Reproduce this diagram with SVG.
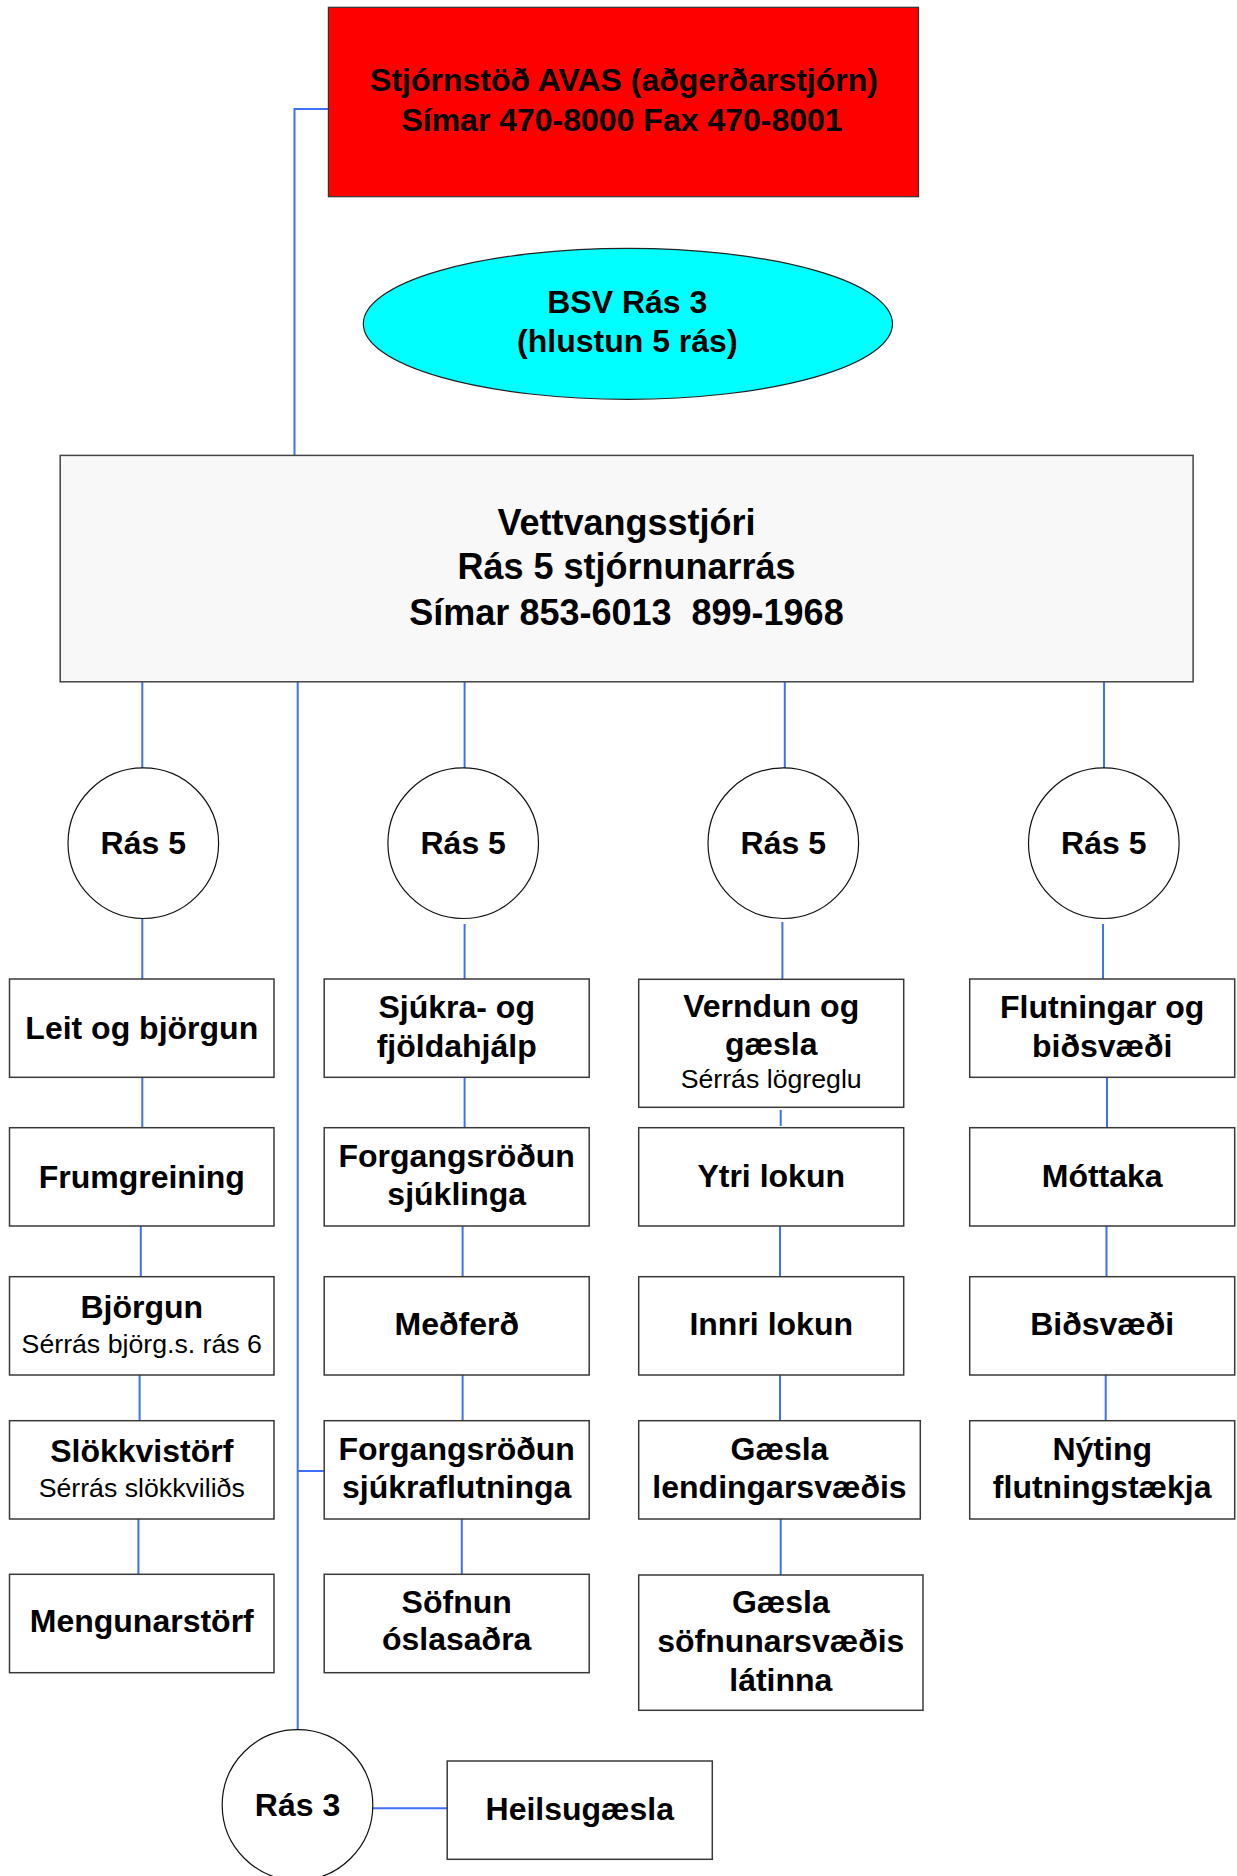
<svg xmlns="http://www.w3.org/2000/svg" width="1237" height="1876" viewBox="0 0 1237 1876">
<style>
.bx{fill:#fff;stroke:#3a3a3a;stroke-width:1.5}
.ci{fill:#fff;stroke:#111;stroke-width:1.2}
.ln{fill:none;stroke:#3f6fff;stroke-width:2}
.b{font-family:"Liberation Sans",Arial,sans-serif;font-weight:bold;font-size:32px;fill:#000;text-anchor:middle}
.r{font-family:"Liberation Sans",Arial,sans-serif;font-size:26.7px;fill:#000;text-anchor:middle}
.big{font-size:36px}
</style>
<rect width="1237" height="1876" fill="#fff"/>
<g id="connectors">
<path class="ln" d="M328.4,109 H294.5 V455.4"/>
<path class="ln" d="M142.3,681.8 V768 M464.6,681.8 V768 M784.8,681.8 V768 M1104,681.8 V768"/>
<path class="ln" d="M142.3,918.6 V979 M464.6,924 V984.6 M782.4,922 V981 M1103,924 V984"/>
<path class="ln" d="M142.3,1077 V1128 M140.8,1226 V1277 M139.6,1375 V1421 M138.4,1519 V1574"/>
<path class="ln" d="M464.6,1077 V1130 M462.6,1226 V1278 M462.6,1375 V1422 M461.8,1519 V1574"/>
<path class="ln" d="M780.7,1110 V1126 M780,1226 V1279 M780,1375 V1421 M780.7,1519 V1575"/>
<path class="ln" d="M1107,1074 V1128 M1106.5,1226 V1277 M1105.7,1375 V1420"/>
<path class="ln" d="M297.7,681.8 V1729.7 M297.7,1471 H324"/>
<path class="ln" d="M372.9,1808.3 H447.2"/>
</g>
<g id="stjornstod">
<rect x="328.4" y="7.3" width="590.1" height="189.4" fill="#ff0000" stroke="#333" stroke-width="1.2"/>
<text class="b" x="624" y="90.7">Stjórnstöð AVAS (aðgerðarstjórn)</text>
<text class="b" x="622" y="130.7">Símar 470-8000 Fax 470-8001</text>
</g>
<g id="bsv">
<ellipse cx="627.9" cy="323.8" rx="264.6" ry="75.5" fill="#00ffff" stroke="#222" stroke-width="1.2"/>
<text class="b" x="627.3" y="313.3">BSV Rás 3</text>
<text class="b" x="627.3" y="351.7">(hlustun 5 rás)</text>
</g>
<g id="vettvang">
<rect x="60.2" y="455.4" width="1132.9" height="226.4" fill="#f8f8f8" stroke="#444" stroke-width="1.5"/>
<text class="b big" x="626.5" y="534.6">Vettvangsstjóri</text>
<text class="b big" x="626.5" y="579.3">Rás 5 stjórnunarrás</text>
<text class="b big" x="626.5" y="624.6" xml:space="preserve">Símar 853-6013  899-1968</text>
</g>
<g id="ras5a"><ellipse class="ci" cx="143.3" cy="843.2" rx="75.3" ry="75.3"/><text class="b" x="143.3" y="854">Rás 5</text></g>
<g id="ras5b"><ellipse class="ci" cx="463.2" cy="843.2" rx="75.3" ry="75.3"/><text class="b" x="463.2" y="854">Rás 5</text></g>
<g id="ras5c"><ellipse class="ci" cx="783.3" cy="843.2" rx="75.3" ry="75.3"/><text class="b" x="783.3" y="854">Rás 5</text></g>
<g id="ras5d"><ellipse class="ci" cx="1103.8" cy="843.2" rx="75.3" ry="75.3"/><text class="b" x="1103.8" y="854">Rás 5</text></g>
<g id="leit"><rect class="bx" x="9.5" y="979" width="264.5" height="98.3"/><text class="b" x="141.75" y="1039">Leit og björgun</text></g>
<g id="frumgreining"><rect class="bx" x="9.5" y="1127.7" width="264.5" height="98.3"/><text class="b" x="141.75" y="1187.5">Frumgreining</text></g>
<g id="bjorgun"><rect class="bx" x="9.5" y="1276.7" width="264.5" height="98.3"/><text class="b" x="141.75" y="1318.3">Björgun</text><text class="r" x="141.75" y="1353.3">Sérrás björg.s. rás 6</text></g>
<g id="slokkvistorf"><rect class="bx" x="9.5" y="1420.7" width="264.5" height="98.3"/><text class="b" x="141.75" y="1462.3">Slökkvistörf</text><text class="r" x="141.75" y="1496.7">Sérrás slökkviliðs</text></g>
<g id="mengunarstorf"><rect class="bx" x="9.5" y="1574.3" width="264.5" height="98.4"/><text class="b" x="141.75" y="1632">Mengunarstörf</text></g>
<g id="sjukra"><rect class="bx" x="324.2" y="979" width="265" height="98.3"/><text class="b" x="456.7" y="1018.3">Sjúkra- og</text><text class="b" x="456.7" y="1056.7">fjöldahjálp</text></g>
<g id="forgangs1"><rect class="bx" x="324.2" y="1127.7" width="265" height="98.3"/><text class="b" x="456.7" y="1166.7">Forgangsröðun</text><text class="b" x="456.7" y="1205">sjúklinga</text></g>
<g id="medferd"><rect class="bx" x="324.2" y="1276.7" width="265" height="98.3"/><text class="b" x="456.7" y="1335">Meðferð</text></g>
<g id="forgangs2"><rect class="bx" x="324.2" y="1420.7" width="265" height="98.3"/><text class="b" x="456.7" y="1460">Forgangsröðun</text><text class="b" x="456.7" y="1498.3">sjúkraflutninga</text></g>
<g id="sofnun"><rect class="bx" x="324.2" y="1574.3" width="265" height="98.4"/><text class="b" x="456.7" y="1612.7">Söfnun</text><text class="b" x="456.7" y="1650">óslasaðra</text></g>
<g id="verndun"><rect class="bx" x="638.7" y="979.3" width="265" height="128"/><text class="b" x="771.2" y="1017.3">Verndun og</text><text class="b" x="771.2" y="1055">gæsla</text><text class="r" x="771.2" y="1088.3">Sérrás lögreglu</text></g>
<g id="ytri"><rect class="bx" x="638.7" y="1127.7" width="265" height="98.3"/><text class="b" x="771.2" y="1187">Ytri lokun</text></g>
<g id="innri"><rect class="bx" x="638.7" y="1276.7" width="265" height="98.3"/><text class="b" x="771.2" y="1335">Innri lokun</text></g>
<g id="gaesla-lend"><rect class="bx" x="638.7" y="1420.7" width="281.6" height="98.3"/><text class="b" x="779.5" y="1460">Gæsla</text><text class="b" x="779.5" y="1497.5">lendingarsvæðis</text></g>
<g id="gaesla-sofn"><rect class="bx" x="638.7" y="1575" width="284.3" height="135.3"/><text class="b" x="780.8" y="1613.3">Gæsla</text><text class="b" x="780.8" y="1651.7">söfnunarsvæðis</text><text class="b" x="780.8" y="1691">látinna</text></g>
<g id="flutningar"><rect class="bx" x="969.7" y="979" width="265" height="98.3"/><text class="b" x="1102.2" y="1018.3">Flutningar og</text><text class="b" x="1102.2" y="1056.7">biðsvæði</text></g>
<g id="mottaka"><rect class="bx" x="969.7" y="1127.7" width="265" height="98.3"/><text class="b" x="1102.2" y="1187">Móttaka</text></g>
<g id="bidsvaedi"><rect class="bx" x="969.7" y="1276.7" width="265" height="98.3"/><text class="b" x="1102.2" y="1335">Biðsvæði</text></g>
<g id="nyting"><rect class="bx" x="969.7" y="1420.7" width="265" height="98.3"/><text class="b" x="1102.2" y="1460">Nýting</text><text class="b" x="1102.2" y="1497.5">flutningstækja</text></g>
<g id="ras3"><ellipse class="ci" cx="297.5" cy="1805" rx="75.3" ry="75.3"/><text class="b" x="297.5" y="1815.5">Rás 3</text></g>
<g id="heilsugaesla"><rect class="bx" x="447.2" y="1761" width="265.1" height="98.3"/><text class="b" x="579.8" y="1820">Heilsugæsla</text></g>
</svg>
